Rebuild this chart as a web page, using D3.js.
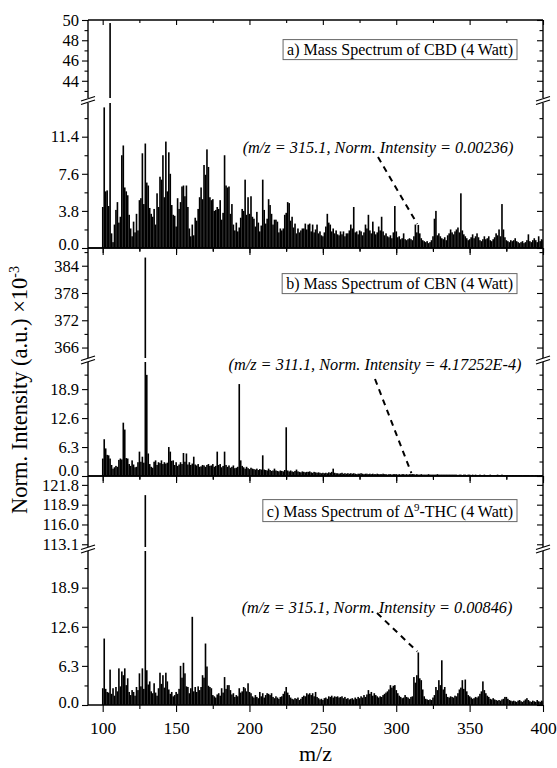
<!DOCTYPE html>
<html>
<head>
<meta charset="utf-8">
<script src="https://cdn.jsdelivr.net/npm/d3@7"></script>
<style>
  body { margin: 0; background: #fff; }
  text { font-family: "Liberation Serif", "Times New Roman", serif; fill: #000; }
</style>
</head>
<body>
<div id="chart"></div>
<script>
// --- data: normalised intensity (x10^-3), one value per integer m/z from 100 to 400 ---
const mzStart = 100;

const cbd = [
  4.2, 14.4, 5.8, 5.9, 4.3, 49.7, 1.5, 0.6, 2.4, 3.9,
  4.7, 2.6, 3.2, 9.5, 10.5, 6.2, 5.8, 5.4, 3.4, 2.0,
  1.2, 2.7, 1.6, 3.5, 1.8, 4.9, 5.1, 9.7, 4.5, 10.7,
  6.7, 6.4, 4.1, 3.5, 3.2, 4.0, 2.4, 5.6, 4.2, 7.3,
  7.0, 9.5, 5.2, 10.9, 5.8, 9.8, 7.6, 4.4, 3.4, 3.3,
  2.2, 5.1, 4.0, 4.7, 6.3, 6.4, 5.3, 6.4, 4.2, 2.0,
  1.2, 2.4, 1.3, 3.1, 2.8, 4.0, 5.2, 6.2, 5.0, 8.5,
  7.5, 10.1, 8.3, 5.2, 4.9, 5.0, 3.8, 3.9, 4.2, 4.0,
  4.9, 2.9, 3.6, 9.5, 6.4, 6.2, 6.3, 3.5, 4.5, 2.4,
  1.8, 2.6, 1.7, 2.1, 3.1, 4.0, 3.8, 7.0, 3.4, 5.2,
  3.5, 5.3, 3.2, 3.0, 2.2, 3.7, 2.6, 1.7, 2.3, 7.0,
  3.9, 2.5, 3.0, 5.0, 4.4, 3.5, 2.4, 2.9, 2.9, 2.7,
  1.6, 2.0, 1.8, 2.0, 3.4, 3.6, 4.7, 4.6, 2.8, 3.2,
  2.1, 2.5, 1.5, 2.0, 1.6, 1.8, 2.0, 2.0, 2.5, 1.9,
  2.4, 2.5, 1.7, 2.4, 1.6, 1.9, 2.4, 1.5, 1.7, 1.3,
  1.2, 1.6, 2.2, 3.5, 2.6, 2.4, 1.7, 2.0, 1.5, 1.8,
  1.4, 1.3, 1.7, 1.4, 1.7, 1.2, 1.5, 1.5, 1.8, 2.4,
  2.0, 4.2, 1.6, 1.7, 1.4, 1.8, 1.7, 1.3, 1.6, 2.4,
  2.0, 3.4, 1.8, 1.5, 2.7, 1.7, 1.4, 1.6, 2.2, 1.8,
  3.2, 1.7, 1.3, 1.5, 1.2, 1.1, 1.3, 1.0, 1.6, 4.3,
  1.7, 1.1, 1.2, 0.9, 1.0, 1.5, 0.9, 0.8, 0.9, 1.0,
  0.9, 0.8, 1.2, 2.4, 1.6, 2.36, 1.5, 1.0, 0.8, 0.7,
  0.6, 0.7, 0.5, 0.6, 0.8, 1.2, 3.0, 3.8, 1.3, 1.5,
  1.2, 1.0, 0.9, 1.1, 0.8, 1.3, 1.5, 1.9, 1.6, 1.4,
  1.7, 1.9, 2.1, 1.6, 5.6, 1.8, 1.4, 1.2, 1.0, 0.8,
  0.9, 1.1, 1.4, 1.0, 1.2, 1.5, 1.1, 0.8, 0.7, 0.9,
  1.2, 0.9, 1.0, 1.2, 0.8, 0.7, 0.9, 1.1, 1.5, 1.3,
  1.9, 1.2, 4.5, 1.9, 1.1, 0.8, 0.7, 0.6, 0.8, 0.7,
  0.8, 1.0, 0.7, 0.6, 0.5, 0.6, 0.7, 0.5, 0.6, 0.8,
  1.4, 0.7, 0.6, 0.8, 1.0, 0.8, 0.6, 1.2, 0.7, 0.9,
  0.8
];

const cbn = [
  3.8, 8.0, 6.0, 4.6, 4.5, 3.8, 2.4, 1.6, 1.9, 2.2,
  2.0, 3.5, 3.8, 3.6, 11.6, 10.1, 3.9, 3.8, 2.6, 2.2,
  3.4, 2.5, 1.9, 2.0, 3.0, 5.3, 3.1, 4.2, 2.9, 385.8,
  22.0, 4.9, 2.6, 2.0, 1.8, 3.1, 3.4, 2.4, 3.0, 2.8,
  3.4, 2.6, 3.0, 2.7, 2.9, 6.3, 5.3, 3.3, 3.4, 2.4,
  3.0, 2.2, 2.5, 3.0, 2.6, 5.0, 3.1, 4.9, 2.5, 3.0,
  2.4, 2.7, 4.2, 2.5, 2.3, 2.6, 2.0, 2.1, 2.4, 2.3,
  2.0, 2.4, 2.6, 2.2, 2.3, 2.6, 2.0, 2.2, 5.3, 2.4,
  2.6, 1.9, 2.2, 5.3, 2.4, 2.0, 2.3, 1.8, 2.0, 2.3,
  1.7, 1.8, 2.0, 20.0, 3.4, 2.2, 1.9, 1.6, 2.0, 1.7,
  1.5, 1.8, 1.6, 1.5, 1.4, 1.6, 1.3, 1.5, 1.4, 4.5,
  1.4, 1.3, 1.2, 1.6, 1.3, 1.1, 1.2, 1.6, 1.2, 1.1,
  1.0, 1.2, 1.1, 1.0, 1.3, 10.6, 1.2, 1.0, 1.2, 1.0,
  0.9, 1.1, 1.4, 1.0, 0.9, 0.8, 1.0, 0.9, 0.8, 0.9,
  0.9, 1.0, 0.8, 0.7, 0.9, 0.8, 0.7, 0.8, 0.7, 0.6,
  0.7, 0.6, 0.7, 0.6, 0.8, 0.7, 0.9, 1.6, 0.7, 0.6,
  0.6, 0.5, 0.6, 0.7, 0.5, 0.6, 0.5, 0.6, 0.5, 0.6,
  0.5, 0.6, 0.5, 0.4, 0.5, 0.5, 0.6, 0.5, 0.4, 0.5,
  0.5, 0.4, 0.5, 0.4, 0.5, 0.4, 0.4, 0.5, 0.4, 0.4,
  0.4, 0.5, 0.4, 0.4, 0.3, 0.4, 0.4, 0.3, 0.4, 0.4,
  0.4, 0.3, 0.4, 0.3, 0.4, 0.4, 0.3, 0.4, 0.3, 0.4,
  0.4, 0.42, 0.4, 0.3, 0.4, 0.3, 0.3, 0.4, 0.3, 0.3,
  0.3, 0.3, 0.4, 0.3, 0.3, 0.3, 0.3, 0.3, 0.4, 0.3,
  0.3, 0.3, 0.3, 0.3, 0.3, 0.3, 0.3, 0.3, 0.3, 0.3,
  0.3, 0.3, 0.2, 0.3, 0.3, 0.2, 0.3, 0.3, 0.2, 0.3,
  0.3, 0.2, 0.3, 0.2, 0.3, 0.2, 0.2, 0.3, 0.2, 0.2,
  0.3, 0.2, 0.2, 0.2, 0.3, 0.2, 0.2, 0.2, 0.2, 0.3,
  0.2, 0.2, 0.3, 0.2, 0.2, 0.2, 0.2, 0.2, 0.2, 0.2,
  0.2, 0.2, 0.2, 0.2, 0.2, 0.2, 0.1, 0.2, 0.2, 0.2,
  0.2, 0.1, 0.2, 0.2, 0.1, 0.2, 0.2, 0.1, 0.2, 0.2,
  0.2
];

const thc = [
  2.7, 10.7, 2.6, 2.1, 2.0, 5.7, 1.8, 2.7, 1.5, 2.9,
  2.2, 5.9, 3.0, 5.4, 4.8, 5.9, 3.2, 4.3, 2.1, 1.6,
  2.4, 2.1, 1.5, 2.9, 2.4, 5.1, 3.0, 5.9, 2.6, 120.3,
  5.6, 3.3, 3.8, 2.2, 1.9, 3.5, 2.0, 1.5, 2.7, 5.2,
  3.4, 4.8, 2.8, 5.2, 3.8, 2.5, 1.8, 2.1, 1.4, 1.6,
  2.1, 1.8, 2.6, 6.3, 4.4, 6.8, 5.1, 3.0, 2.9, 1.9,
  2.7, 14.2, 2.2, 2.9, 2.1, 3.0, 2.4, 2.9, 4.8, 4.4,
  9.9, 6.2, 3.1, 2.9, 2.7, 1.6, 1.4, 1.2, 1.7, 1.9,
  1.5, 2.7, 2.0, 4.5, 2.6, 3.2, 3.2, 2.4, 1.7, 1.9,
  1.3, 1.6, 1.4, 2.7, 2.0, 2.2, 2.9, 2.7, 2.2, 3.5,
  2.1, 1.9, 1.4, 1.2, 1.6, 1.3, 1.1, 2.1, 1.4, 1.9,
  1.2, 1.6, 1.9, 1.8, 1.6, 1.9, 1.3, 1.1, 1.4, 1.2,
  1.0, 1.3, 1.4, 1.8, 2.2, 2.9, 2.0, 1.6, 1.2, 1.0,
  0.9, 1.1, 1.0, 1.2, 0.8, 1.0, 1.3, 1.5, 1.4, 1.9,
  1.7, 1.9, 1.6, 1.9, 1.4, 2.1, 1.3, 1.1, 0.9, 1.0,
  0.8, 1.1, 1.2, 1.0, 1.4, 1.3, 1.5, 1.2, 1.4, 1.3,
  1.4, 1.2, 1.3, 1.4, 1.1, 1.3, 1.0, 1.1, 0.9, 1.0,
  1.1, 0.9, 1.2, 1.0, 1.3, 1.1, 1.4, 1.2, 1.6, 1.3,
  1.7, 2.4, 1.8, 2.1, 1.5, 1.9, 1.6, 1.4, 1.2, 1.4,
  1.3, 1.6, 1.8, 2.0, 2.2, 2.5, 3.2, 2.8, 3.1, 3.2,
  2.4, 1.9, 1.5, 1.3, 1.1, 1.2, 1.6, 1.3, 1.2, 1.0,
  1.3, 1.4, 4.5, 3.6, 4.8, 8.46, 4.3, 4.0, 2.5, 1.4,
  1.0, 0.9, 0.8, 0.9, 0.8, 1.2, 1.6, 2.9, 2.4, 4.0,
  3.2, 7.2, 2.5, 2.9, 1.8, 1.3, 1.2, 1.4, 1.3, 1.2,
  1.5, 1.4, 1.9, 2.5, 2.8, 4.0, 2.6, 4.1, 2.2, 1.6,
  1.4, 1.2, 1.0, 1.1, 1.3, 1.2, 1.4, 1.8, 2.2, 3.8,
  2.4, 1.9, 1.5, 1.3, 1.0, 0.9, 1.1, 0.9, 0.8, 0.7,
  0.8, 0.7, 0.9, 1.0, 1.3, 1.3, 1.0, 0.8, 0.7, 0.6,
  0.7, 0.6, 0.5, 0.7, 0.8, 0.6, 0.5, 0.7, 0.9, 1.1,
  0.8, 0.6, 0.5, 0.7, 0.6, 0.5, 0.8, 0.6, 0.5, 0.7,
  0.6
];

const xMajor = [100, 150, 200, 250, 300, 350, 400];
const xMinor = [125, 175, 225, 275, 325, 375];

// --- layout ---
const width = 557, height = 768;
const left = 88, right = 543;
const font = '"Liberation Serif", "Times New Roman", serif';

const x = d3.scaleLinear().domain([90, 400]).range([left, right]);
const step = x(mzStart + 1) - x(mzStart);

const svg = d3.select("#chart").append("svg")
  .attr("width", width).attr("height", height);

const panels = [
  {
    values: cbd, top: 20, bottom: 248, zeroDy: "0.1em",
    upper: { domain: [42.3, 50], range: [98, 20], ticks: [44, 46, 48, 50], minor: [43, 45, 47, 49], fmt: d3.format("d") },
    lower: { domain: [0, 14.85], range: [248, 103], ticks: [0, 3.8, 7.6, 11.4], minor: [1.9, 5.7, 9.5, 13.3], fmt: d3.format(".1f") },
    title: ["a) Mass Spectrum of CBD (4 Watt)"], boxY: 49,
    note: { mz: 315, val: 2.36, text: "(m/z = 315.1, Norm. Intensity = 0.00236)", tx: 378, ty: 147, sy: 157 }
  },
  {
    values: cbn, top: 248, bottom: 476, zeroDy: "-0.05em",
    upper: { domain: [363.7, 387.9], range: [358, 248], ticks: [366, 372, 378, 384], minor: [369, 375, 381, 387], fmt: d3.format("d") },
    lower: { domain: [0, 24.8], range: [476, 362], ticks: [0, 6.3, 12.6, 18.9], minor: [3.15, 9.45, 15.75, 22.05], fmt: d3.format(".1f") },
    title: ["b) Mass Spectrum of CBN (4 Watt)"], boxY: 283,
    note: { mz: 311, val: 0.417, text: "(m/z = 311.1, Norm. Intensity = 4.17252E-4)", tx: 375, ty: 364, sy: 379 }
  },
  {
    values: thc, top: 476, bottom: 705, zeroDy: "0.15em",
    upper: { domain: [112.7, 123.1], range: [547, 476], ticks: [113.1, 116.0, 118.9, 121.8], minor: [114.55, 117.45, 120.35], fmt: d3.format(".1f") },
    lower: { domain: [0, 24.8], range: [705, 551], ticks: [0, 6.3, 12.6, 18.9], minor: [3.15, 9.45, 15.75, 22.05], fmt: d3.format(".1f") },
    title: ["c) Mass Spectrum of \u0394", "9", "-THC (4 Watt)"], boxY: 511,
    note: { mz: 315, val: 8.46, text: "(m/z = 315.1, Norm. Intensity = 0.00846)", tx: 377, ty: 607, sy: 613 }
  }
];

function styleAxis(g, size) {
  g.select(".domain").remove();
  g.selectAll("line").attr("stroke", "#000").attr("stroke-width", 1.1);
  g.selectAll("text").attr("font-family", font).attr("font-size", size).attr("fill", "#000");
}

panels.forEach((p, pi) => {
  const g = svg.append("g");
  const segs = [p.upper, p.lower];

  segs.forEach((s, si) => {
    const y = d3.scaleLinear().domain(s.domain).range(s.range);
    const clipId = `clip-${pi}-${si}`;
    svg.append("clipPath").attr("id", clipId).append("rect")
      .attr("x", left).attr("y", s.range[1])
      .attr("width", right - left).attr("height", s.range[0] - s.range[1]);

    // bars (sticks) for the spectrum, one per m/z, touching each other
    g.append("g").attr("clip-path", `url(#${clipId})`)
      .selectAll("rect").data(p.values).join("rect")
      .attr("x", (d, i) => x(mzStart + i) - step * 0.5)
      .attr("width", step + 0.15)
      .attr("y", d => Math.min(y(d), s.range[0]))
      .attr("height", d => Math.max(0, s.range[0] - y(d)))
      .attr("fill", "#000");

    // left axis (outward) with labels
    g.append("g").attr("transform", `translate(${left},0)`)
      .call(d3.axisLeft(y).tickValues(s.ticks).tickSize(6).tickPadding(3).tickFormat(s.fmt))
      .call(ax => styleAxis(ax, 16.5))
      .call(ax => ax.selectAll(".tick text").filter(d => d === 0).attr("dy", p.zeroDy));
    g.append("g").attr("transform", `translate(${left},0)`)
      .call(d3.axisLeft(y).tickValues(s.minor).tickSize(3.5).tickFormat(""))
      .call(ax => styleAxis(ax, 16.5));

    // right axis (inward ticks)
    g.append("g").attr("transform", `translate(${right},0)`)
      .call(d3.axisLeft(y).tickValues(s.ticks).tickSize(6).tickFormat(""))
      .call(ax => styleAxis(ax, 16.5));
    g.append("g").attr("transform", `translate(${right},0)`)
      .call(d3.axisLeft(y).tickValues(s.minor).tickSize(3.5).tickFormat(""))
      .call(ax => styleAxis(ax, 16.5));

    // note dashed line points at the peak in the lower segment
    if (si === 1) {
      g.append("line")
        .attr("x1", p.note.tx).attr("y1", p.note.sy)
        .attr("x2", x(p.note.mz) - 1).attr("y2", y(p.note.val) - 1)
        .attr("stroke", "#000").attr("stroke-width", 2)
        .attr("stroke-dasharray", "6,5");
    }
  });

  // frame
  const frame = g.append("g").attr("stroke", "#000").attr("stroke-width", 1.4).attr("fill", "none");
  [left, right].forEach(xx => {
    frame.append("line").attr("x1", xx).attr("x2", xx).attr("y1", p.top).attr("y2", p.upper.range[0]);
    frame.append("line").attr("x1", xx).attr("x2", xx).attr("y1", p.lower.range[1]).attr("y2", p.bottom);
  });
  frame.append("line").attr("x1", left).attr("x2", right).attr("y1", p.top).attr("y2", p.top);
  frame.append("line").attr("x1", left).attr("x2", right).attr("y1", p.bottom).attr("y2", p.bottom);

  // axis break marks
  const by = (p.upper.range[0] + p.lower.range[1]) / 2;
  [left, right].forEach(xx => {
    const bg = g.append("g").attr("stroke", "#000").attr("stroke-width", 1.3);
    bg.append("line").attr("x1", xx - 7).attr("y1", by + 0.5).attr("x2", xx + 7).attr("y2", by - 4);
    bg.append("line").attr("x1", xx - 7).attr("y1", by + 4).attr("x2", xx + 7).attr("y2", by - 0.5);
  });

  // top ticks (inward) and bottom ticks (outward)
  g.append("g").attr("transform", `translate(0,${p.top})`)
    .call(d3.axisBottom(x).tickValues(xMajor).tickSize(5).tickFormat(""))
    .call(ax => styleAxis(ax, 17));
  g.append("g").attr("transform", `translate(0,${p.top})`)
    .call(d3.axisBottom(x).tickValues(xMinor).tickSize(3).tickFormat(""))
    .call(ax => styleAxis(ax, 17));
  const last = pi === panels.length - 1;
  g.append("g").attr("transform", `translate(0,${p.bottom})`)
    .call(d3.axisBottom(x).tickValues(xMajor).tickSize(7).tickPadding(10).tickFormat(last ? d3.format("d") : ""))
    .call(ax => styleAxis(ax, 17.5));
  g.append("g").attr("transform", `translate(0,${p.bottom})`)
    .call(d3.axisBottom(x).tickValues(xMinor).tickSize(4).tickFormat(""))
    .call(ax => styleAxis(ax, 17));

  // title box
  const box = g.append("rect");
  const t = g.append("text")
    .attr("x", 513).attr("y", p.boxY).attr("dy", "0.35em")
    .attr("text-anchor", "end").attr("font-size", 16);
  t.append("tspan").text(p.title[0]);
  if (p.title.length > 1) {
    t.append("tspan").attr("dy", -6).attr("font-size", 11).text(p.title[1]);
    t.append("tspan").attr("dy", 6).text(p.title[2]);
  }
  const bb = t.node().getBBox();
  box.attr("x", bb.x - 4).attr("y", bb.y - 1)
    .attr("width", bb.width + 8).attr("height", bb.height + 2)
    .attr("fill", "#fff").attr("stroke", "#666").attr("stroke-width", 1);

  // note text
  g.append("text")
    .attr("x", p.note.tx).attr("y", p.note.ty).attr("dy", "0.35em")
    .attr("text-anchor", "middle").attr("font-size", 16.3).attr("font-style", "italic")
    .text(p.note.text);
});

// axis titles
const yt = svg.append("text")
  .attr("transform", "translate(27,390) rotate(-90)")
  .attr("text-anchor", "middle").attr("font-size", 22.5);
yt.append("tspan").text("Norm. Intensity (a.u.) \u00d710");
yt.append("tspan").attr("dy", -8).attr("font-size", 14).text("-3");

svg.append("text")
  .attr("x", (left + right) / 2).attr("y", 753).attr("dy", "0.35em")
  .attr("text-anchor", "middle").attr("font-size", 22)
  .text("m/z");
</script>
</body>
</html>
